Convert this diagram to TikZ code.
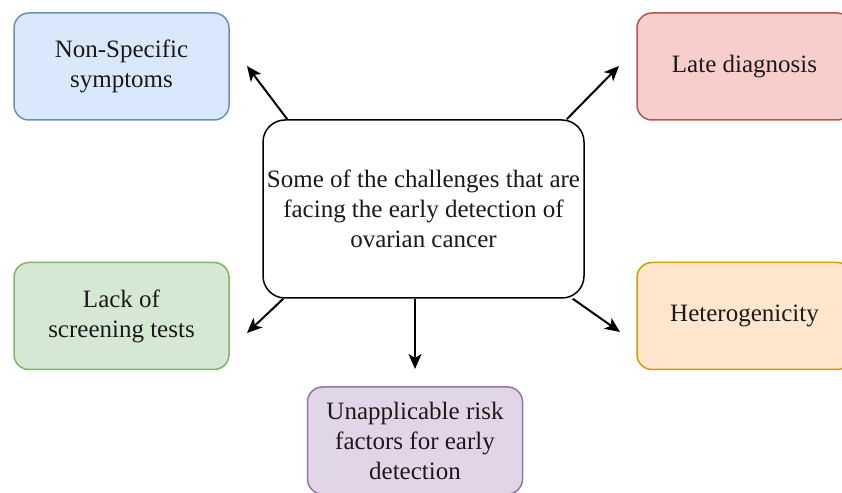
\documentclass[tikz,border=0pt]{standalone}
\usepackage{fontspec}
\setmainfont{Liberation Serif}
\newfontfamily\serf{Liberation Serif}
\usetikzlibrary{arrows.meta}
\definecolor{bfill}{HTML}{DAE8FC}\definecolor{bdraw}{HTML}{6C8EBF}
\definecolor{rfill}{HTML}{F8CECC}\definecolor{rdraw}{HTML}{B85450}
\definecolor{gfill}{HTML}{D5E8D4}\definecolor{gdraw}{HTML}{82B366}
\definecolor{ofill}{HTML}{FFE6CC}\definecolor{odraw}{HTML}{D79B00}
\definecolor{pfill}{HTML}{E1D5E7}\definecolor{pdraw}{HTML}{9673A6}
\definecolor{txt}{HTML}{1A1A1A}
\tikzset{
  box/.style={draw, line width=1.5pt, rounded corners=15pt, minimum width=215pt, minimum height=107pt,
    inner sep=0pt, align=center, text=txt, font=\serf\fontsize{25}{30}\selectfont},
  mainbox/.style={box, draw=black, fill=white, rounded corners=22pt, minimum width=321pt, minimum height=178pt},
  arr/.style={line width=2pt, -{Stealth[length=15pt,width=13pt,inset=4pt]}}
}
\begin{document}
\begin{tikzpicture}[x=1pt,y=1pt]
\useasboundingbox (0,0) rectangle (842,492);
\clip (0,0) rectangle (842,492);
\node[box, fill=bfill, draw=bdraw] (ns) at (121.5,425.5) {Non-Specific\\symptoms};
\node[box, fill=rfill, draw=rdraw] (ld) at (744.5,425.5) {Late diagnosis};
\node[box, fill=gfill, draw=gdraw] (ls) at (121.5,176) {Lack of\\screening tests};
\node[box, fill=ofill, draw=odraw] (he) at (744.5,176) {Heterogenicity};
\node[box, fill=pfill, draw=pdraw] (ua) at (415,51.5) {Unapplicable risk\\factors for early\\detection};
\node[mainbox] (c) at (423.5,283) {Some of the challenges that are\\facing the early detection of\\ovarian cancer};
\coordinate (t1) at (247,426);
\coordinate (t2) at (619,426);
\coordinate (t3) at (247,159);
\coordinate (t4) at (620,160);
\coordinate (t5) at (415,123);
\draw[arr] ([xshift=25pt]c.north west) -- (t1);
\draw[arr] ([xshift=-18pt]c.north east) -- (t2);
\draw[arr] ([xshift=21pt]c.south west) -- (t3);
\draw[arr] ([xshift=-12pt]c.south east) -- (t4);
\draw[arr] ([xshift=-8.5pt]c.south) -- (t5);
\end{tikzpicture}
\end{document}
